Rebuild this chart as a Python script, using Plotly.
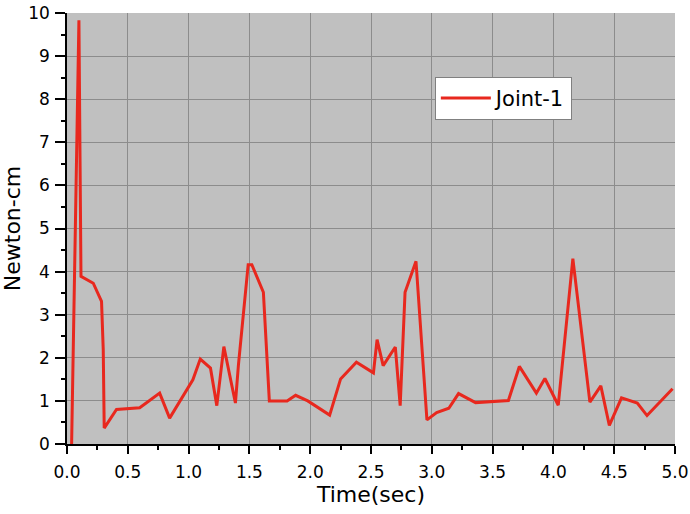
import plotly.graph_objects as go

time_sec = [0.038, 0.098, 0.115, 0.216, 0.284, 0.298, 0.306, 0.407, 0.598, 0.762, 0.844,
            1.035, 1.096, 1.18, 1.232, 1.29, 1.385, 1.41, 1.49, 1.52, 1.615, 1.664, 1.81,
            1.88, 1.98, 2.16, 2.25, 2.38, 2.52, 2.55, 2.60, 2.70, 2.74, 2.78, 2.87, 2.96,
            3.04, 3.14, 3.22, 3.36, 3.63, 3.72, 3.86, 3.93, 4.04, 4.16, 4.30, 4.39, 4.46,
            4.56, 4.69, 4.77, 4.98]
newton_cm = [0.0, 9.83, 3.89, 3.73, 3.31, 2.19, 0.37, 0.80, 0.84, 1.18, 0.60,
             1.49, 1.97, 1.76, 0.89, 2.26, 0.95, 1.84, 4.16, 4.16, 3.52, 1.00, 1.00,
             1.13, 1.00, 0.67, 1.51, 1.90, 1.65, 2.42, 1.82, 2.25, 0.89, 3.52, 4.24, 0.56,
             0.73, 0.83, 1.17, 0.96, 1.01, 1.80, 1.18, 1.52, 0.90, 4.30, 0.97, 1.35, 0.43,
             1.07, 0.95, 0.66, 1.28]

fig = go.Figure()
fig.add_trace(go.Scatter(x=time_sec, y=newton_cm, mode="lines", name="Joint-1",
                         line=dict(color="#e8281e", width=3)))

font = "DejaVu Sans, Liberation Sans, Arial, sans-serif"
fig.update_layout(
    width=690, height=514,
    margin=dict(l=67, r=15, t=13, b=70),
    paper_bgcolor="white", plot_bgcolor="#c0c0c0",
    font=dict(family=font, color="black"),
    showlegend=True,
    legend=dict(x=0.605, y=0.852, xanchor="left", yanchor="top",
                bgcolor="white", bordercolor="#808080", borderwidth=1,
                font=dict(size=21, family=font), itemwidth=50,
                tracegroupgap=0),
    xaxis=dict(range=[0, 5], dtick=0.5, tickformat=".1f", automargin=False,
               showgrid=True, gridcolor="#8c8c8c", gridwidth=1,
               showline=True, linecolor="black", linewidth=1.5,
               ticks="outside", ticklen=8, tickwidth=1.5, tickcolor="black",
               ticklabelstandoff=4,
               minor=dict(ticks="outside", dtick=0.25, ticklen=4, tickcolor="black", showgrid=False),
               tickfont=dict(size=17), zeroline=False,
               title=dict(text="Time(sec)", font=dict(size=22), standoff=4)),
    yaxis=dict(range=[0, 10], dtick=1, automargin=False,
               showgrid=True, gridcolor="#8c8c8c", gridwidth=1,
               showline=True, linecolor="black", linewidth=1.5,
               ticks="outside", ticklen=10, tickwidth=1.5, tickcolor="black",
               ticklabelstandoff=2,
               minor=dict(ticks="outside", dtick=0.5, ticklen=4, tickcolor="black", showgrid=False),
               tickfont=dict(size=17), zeroline=False,
               title=dict(text="Newton-cm", font=dict(size=22), standoff=6)),
)

fig.write_html("out.html", config={"displayModeBar": False},
               post_script="document.body.style.margin='0px';")
